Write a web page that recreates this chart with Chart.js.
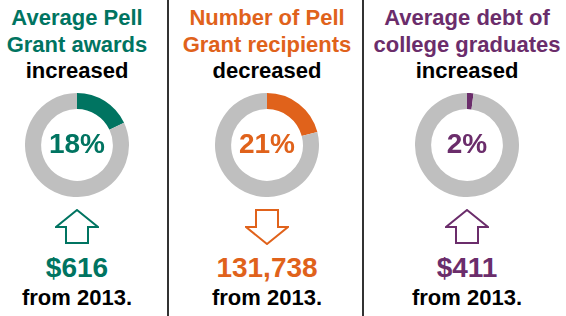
<!DOCTYPE html>
<html>
<head>
<meta charset="utf-8">
<script src="https://cdn.jsdelivr.net/npm/chart.js"></script>
<style>
  html, body { margin: 0; padding: 0; background: #fff; }
  #wrap { position: relative; width: 566px; height: 316px; overflow: hidden;
    font-family: "Liberation Sans", Arial, sans-serif; font-weight: bold; }
  .panel { position: absolute; top: 0; width: 190px; height: 316px; }
  .title { position: absolute; top: 5px; left: 0; width: 190px; text-align: center;
    font-size: 22px; line-height: 26.5px; }
  .title .dir { color: #000; }
  .donut { position: absolute; top: 93px; width: 104px; height: 104px; }
  .pct { position: absolute; top: 128px; width: 190px; left: 0; text-align: center;
    font-size: 28px; line-height: 32px; }
  .arrow { position: absolute; top: 209px; }
  .value { position: absolute; top: 252px; left: 0; width: 190px; text-align: center;
    font-size: 28px; line-height: 32px; }
  .from { position: absolute; top: 285px; left: 0; width: 190px; text-align: center;
    font-size: 22px; line-height: 26px; color: #000; }
  .sep { position: absolute; top: 0; width: 2px; height: 316px; background: #333; }
</style>
</head>
<body>
<div id="wrap">
  <div class="sep" style="left:167px"></div>
  <div class="sep" style="left:362px"></div>
</div>
<script>
// data
const titles = [
  ['Average Pell', 'Grant awards'],
  ['Number of Pell', 'Grant recipients'],
  ['Average debt of', 'college graduates']
];
const directions = ['increased', 'decreased', 'increased'];
const percents = [18, 21, 2];
const changes = ['$616', '131,738', '$411'];
const arrows = ['up', 'down', 'up'];
const colors = ['#007461', '#E0621B', '#6B2D6B'];
const centers = [77, 267, 467];
const ringGrey = '#BFBFBF';

const wrap = document.getElementById('wrap');

function arrowSvg(dir, color) {
  // block arrow outline, 44 x 36
  const up = '22,1 43,18 33,18 33,34 11,34 11,18 1,18';
  const down = '11,1 33,1 33,18 43,18 22,35 1,18 11,18';
  return `<svg width="44" height="36" viewBox="0 0 44 36">
    <polygon points="${dir === 'up' ? up : down}" fill="#fff" stroke="${color}" stroke-width="2"/>
  </svg>`;
}

percents.forEach((p, i) => {
  const panel = document.createElement('div');
  panel.className = 'panel';
  panel.style.left = (centers[i] - 95) + 'px';
  panel.innerHTML = `
    <div class="title"><span style="color:${colors[i]}">${titles[i][0]}<br>${titles[i][1]}</span><br><span class="dir">${directions[i]}</span></div>
    <canvas class="donut" width="104" height="104" style="left:43px"></canvas>
    <div class="pct" style="color:${colors[i]}">${p}%</div>
    <div class="arrow" style="left:73px">${arrowSvg(arrows[i], colors[i])}</div>
    <div class="value" style="color:${colors[i]}">${changes[i]}</div>
    <div class="from">from 2013.</div>
  `;
  wrap.appendChild(panel);

  new Chart(panel.querySelector('canvas'), {
    type: 'doughnut',
    data: {
      labels: ['change', 'rest'],
      datasets: [{
        data: [p, 100 - p],
        backgroundColor: [colors[i], ringGrey],
        borderWidth: 0
      }]
    },
    options: {
      responsive: false,
      animation: false,
      cutout: '69%',
      layout: { padding: 0 },
      plugins: { legend: { display: false }, tooltip: { enabled: false } }
    }
  });
});
</script>
</body>
</html>
